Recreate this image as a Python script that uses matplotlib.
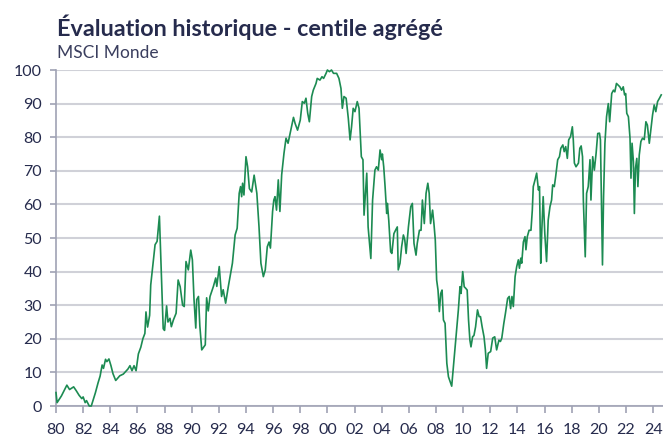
import numpy as np
import matplotlib
matplotlib.use("Agg")
import matplotlib.pyplot as plt

# decimal year / aggregated percentile
years = [
    1980.00, 1980.08, 1980.40, 1980.80, 1981.00, 1981.30, 1981.50, 1981.70, 1981.90, 1982.00,
    1982.15, 1982.25, 1982.45, 1982.60, 1982.90, 1983.10, 1983.25, 1983.40, 1983.50, 1983.65,
    1983.75, 1983.90, 1984.05, 1984.20, 1984.40, 1984.70, 1984.96, 1985.30, 1985.45, 1985.60,
    1985.75, 1985.90, 1986.07, 1986.25, 1986.40, 1986.55, 1986.63, 1986.75, 1986.90, 1986.98,
    1987.17, 1987.30, 1987.45, 1987.62, 1987.75, 1987.90, 1988.00, 1988.15, 1988.25, 1988.40,
    1988.50, 1988.65, 1988.85, 1989.00, 1989.15, 1989.33, 1989.45, 1989.58, 1989.75, 1989.93,
    1990.05, 1990.17, 1990.30, 1990.37, 1990.50, 1990.60, 1990.74, 1991.00, 1991.10, 1991.22,
    1991.35, 1991.60, 1991.77, 1991.85, 1992.03, 1992.20, 1992.32, 1992.50, 1992.70, 1992.87,
    1993.00, 1993.20, 1993.35, 1993.50, 1993.60, 1993.68, 1993.75, 1993.85, 1994.00, 1994.12,
    1994.25, 1994.42, 1994.60, 1994.80, 1994.96, 1995.10, 1995.28, 1995.42, 1995.57, 1995.70,
    1995.80, 1995.96, 1996.05, 1996.14, 1996.25, 1996.38, 1996.50, 1996.63, 1996.80, 1996.95,
    1997.10, 1997.30, 1997.50, 1997.62, 1997.80, 1998.00, 1998.15, 1998.30, 1998.42, 1998.55,
    1998.67, 1998.84, 1998.96, 1999.16, 1999.25, 1999.45, 1999.60, 1999.72, 1999.90, 2000.00,
    2000.15, 2000.30, 2000.45, 2000.68, 2000.85, 2001.00, 2001.10, 2001.22, 2001.38, 2001.54,
    2001.67, 2001.78, 2001.90, 2002.03, 2002.20, 2002.33, 2002.50, 2002.62, 2002.70, 2002.90,
    2003.00, 2003.20, 2003.33, 2003.50, 2003.62, 2003.75, 2003.88, 2004.00, 2004.05, 2004.15,
    2004.25, 2004.37, 2004.42, 2004.52, 2004.66, 2004.75, 2004.90, 2005.02, 2005.15, 2005.22,
    2005.35, 2005.47, 2005.60, 2005.70, 2005.80, 2005.97, 2006.14, 2006.26, 2006.38, 2006.53,
    2006.62, 2006.78, 2006.90, 2007.00, 2007.14, 2007.27, 2007.40, 2007.50, 2007.60, 2007.75,
    2007.85, 2007.95, 2008.05, 2008.15, 2008.25, 2008.35, 2008.45, 2008.55, 2008.67, 2008.80,
    2008.92, 2009.05, 2009.16, 2009.33, 2009.48, 2009.65, 2009.77, 2009.85, 2009.97, 2010.08,
    2010.20, 2010.30, 2010.40, 2010.50, 2010.58, 2010.70, 2010.80, 2010.92, 2011.06, 2011.18,
    2011.28, 2011.40, 2011.54, 2011.64, 2011.73, 2011.85, 2012.03, 2012.18, 2012.33, 2012.47,
    2012.64, 2012.75, 2012.85, 2013.00, 2013.12, 2013.28, 2013.40, 2013.50, 2013.60, 2013.70,
    2013.83, 2013.95, 2014.07, 2014.15, 2014.25, 2014.32, 2014.44, 2014.56, 2014.63, 2014.73,
    2014.86, 2015.00, 2015.10, 2015.17, 2015.30, 2015.42, 2015.55, 2015.63, 2015.72, 2015.80,
    2015.90, 2016.02, 2016.15, 2016.27, 2016.40, 2016.52, 2016.60, 2016.72, 2016.82, 2016.97,
    2017.10, 2017.20, 2017.35, 2017.45, 2017.56, 2017.68, 2017.78, 2017.92, 2018.05, 2018.12,
    2018.20, 2018.32, 2018.50, 2018.60, 2018.70, 2018.80, 2018.86, 2019.00, 2019.10, 2019.22,
    2019.35, 2019.42, 2019.55, 2019.67, 2019.80, 2019.92, 2020.05, 2020.12, 2020.20, 2020.27,
    2020.35, 2020.45, 2020.57, 2020.70, 2020.80, 2020.95, 2021.08, 2021.18, 2021.30, 2021.42,
    2021.55, 2021.68, 2021.80, 2021.90, 2021.98, 2022.06, 2022.18, 2022.30, 2022.37, 2022.45,
    2022.55, 2022.62, 2022.70, 2022.80, 2022.88, 2022.98, 2023.10, 2023.22, 2023.35, 2023.47,
    2023.58, 2023.72, 2023.85, 2023.96, 2024.08, 2024.20, 2024.33, 2024.47, 2024.60,
]
values = [
    4.0, 1.0, 3.0, 6.2, 4.9, 5.7, 4.5, 3.2, 2.2, 2.7,
    1.0, 1.6, 0.0, 0.0, 3.9, 6.9, 8.9, 12.2, 11.2, 13.9,
    13.2, 14.0, 12.0, 9.6, 7.6, 9.0, 9.5, 11.0, 12.0, 10.5,
    12.0, 10.5, 15.5, 17.5, 20.0, 21.6, 28.0, 23.5, 27.0, 36.0,
    43.0, 48.0, 49.0, 56.5, 41.0, 23.0, 22.5, 29.8, 25.0, 26.1,
    23.6, 25.6, 27.6, 37.5, 35.5, 30.0, 29.6, 43.0, 40.5, 46.4,
    43.5, 31.7, 23.2, 31.7, 32.6, 23.8, 16.7, 18.2, 32.2, 28.3,
    32.6, 35.6, 38.1, 35.6, 41.5, 32.6, 34.6, 30.6, 35.6, 39.5,
    42.5, 50.9, 52.9, 63.3, 65.3, 62.3, 66.3, 62.8, 74.2, 71.2,
    64.7, 63.7, 68.7, 63.3, 53.3, 42.5, 38.5, 40.5, 47.4, 48.8,
    47.0, 57.9, 61.3, 62.3, 58.3, 67.3, 57.9, 68.8, 75.2, 79.7,
    78.2, 82.1, 85.9, 84.1, 82.1, 85.1, 90.6, 90.1, 91.6, 87.1,
    84.6, 92.1, 94.0, 96.0, 97.5, 97.0, 98.0, 97.5, 99.0, 100.0,
    99.5, 100.0, 99.0, 99.0, 97.5, 94.5, 88.6, 92.1, 91.6, 85.6,
    79.2, 83.1, 88.6, 87.6, 90.6, 88.6, 74.2, 73.3, 56.8, 69.3,
    53.3, 43.9, 61.3, 70.2, 71.2, 70.2, 76.2, 73.3, 75.0, 71.2,
    65.3, 57.3, 60.3, 55.3, 45.9, 45.4, 51.3, 52.3, 53.3, 40.5,
    42.5, 47.4, 50.9, 49.5, 45.4, 53.3, 59.3, 60.3, 48.4, 44.9,
    48.4, 52.3, 52.3, 61.3, 54.3, 63.3, 66.3, 63.3, 54.3, 58.3,
    54.3, 49.4, 37.5, 34.5, 28.1, 33.5, 34.5, 25.6, 24.6, 12.7,
    8.7, 7.2, 5.9, 13.7, 20.6, 28.6, 35.5, 33.5, 40.0, 35.5,
    35.0, 34.5, 25.6, 19.6, 17.6, 20.6, 21.0, 23.6, 28.6, 26.6,
    26.6, 23.6, 20.6, 16.7, 11.2, 15.7, 16.2, 20.2, 20.6, 16.7,
    19.6, 19.2, 20.2, 24.6, 27.6, 32.0, 32.6, 29.0, 32.6, 29.6,
    38.5, 41.5, 43.5, 41.0, 44.0, 42.5, 48.8, 50.4, 46.5, 50.4,
    52.3, 52.3, 58.3, 65.3, 67.3, 69.3, 64.3, 65.3, 42.5, 52.3,
    62.3, 51.3, 43.0, 55.3, 59.3, 61.3, 65.8, 65.3, 68.3, 73.3,
    74.2, 76.7, 77.7, 75.7, 77.2, 73.7, 79.2, 80.2, 83.1, 79.2,
    72.3, 71.2, 72.3, 76.7, 77.4, 74.2, 61.3, 44.4, 63.3, 65.3,
    73.3, 61.3, 74.2, 70.2, 75.2, 81.1, 81.2, 79.2, 59.3, 42.0,
    62.3, 78.2, 86.1, 90.0, 84.6, 93.0, 94.0, 93.5, 96.0, 95.5,
    95.0, 94.0, 95.0, 92.6, 93.0, 87.1, 86.1, 79.7, 67.8, 78.2,
    72.7, 57.3, 70.7, 73.7, 65.3, 74.7, 78.7, 79.7, 79.3, 84.6,
    83.6, 78.2, 82.6, 86.6, 89.6, 87.6, 90.6, 91.6, 92.6,
]

xticks = list(range(1980, 2025, 2))
xlabels = ["%02d" % (y % 100) for y in xticks]
yticks = list(range(0, 101, 10))

title = "Évaluation historique - centile agrégé"
subtitle = "MSCI Monde"

navy = "#262b4d"
axis_col = "#9fa2b4"
grid_col = "#d0d1d8"
green = "#1c8b52"

plt.rcParams["font.family"] = ["Lato", "DejaVu Sans"]

fig = plt.figure(figsize=(6.63, 4.38), dpi=100)
ax = fig.add_axes([56 / 663, 32 / 438, 1 - 56 / 663, (406 - 70) / 438])

ax.plot(years, values, color=green, lw=1.2, clip_on=False, zorder=3)

ax.set_xlim(1980, 2024.73)
ax.set_ylim(0, 100)
ax.set_xticks(xticks)
ax.set_xticklabels(xlabels)
ax.set_yticks(yticks)

ax.grid(axis="y", color=grid_col, lw=1.5)
ax.set_axisbelow(True)
for s in ["top", "right"]:
    ax.spines[s].set_visible(False)
for s in ["left", "bottom"]:
    ax.spines[s].set_color(axis_col)
    ax.spines[s].set_linewidth(1.2)

ax.tick_params(axis="x", colors=axis_col, labelcolor=navy, length=5, width=1.2,
               pad=7, labelsize=11.5)
ax.tick_params(axis="y", colors=axis_col, labelcolor=navy, length=4, width=1.2,
               pad=6, labelsize=11.5)

fig.text(57 / 663, 1 - 27 / 438, title, fontsize=16.8, fontweight="bold",
         color=navy, va="center", ha="left")
fig.text(57 / 663, 1 - 53 / 438, subtitle, fontsize=12.5, color="#3a3e5e",
         va="center", ha="left")

fig.savefig("out.png", dpi=100)
